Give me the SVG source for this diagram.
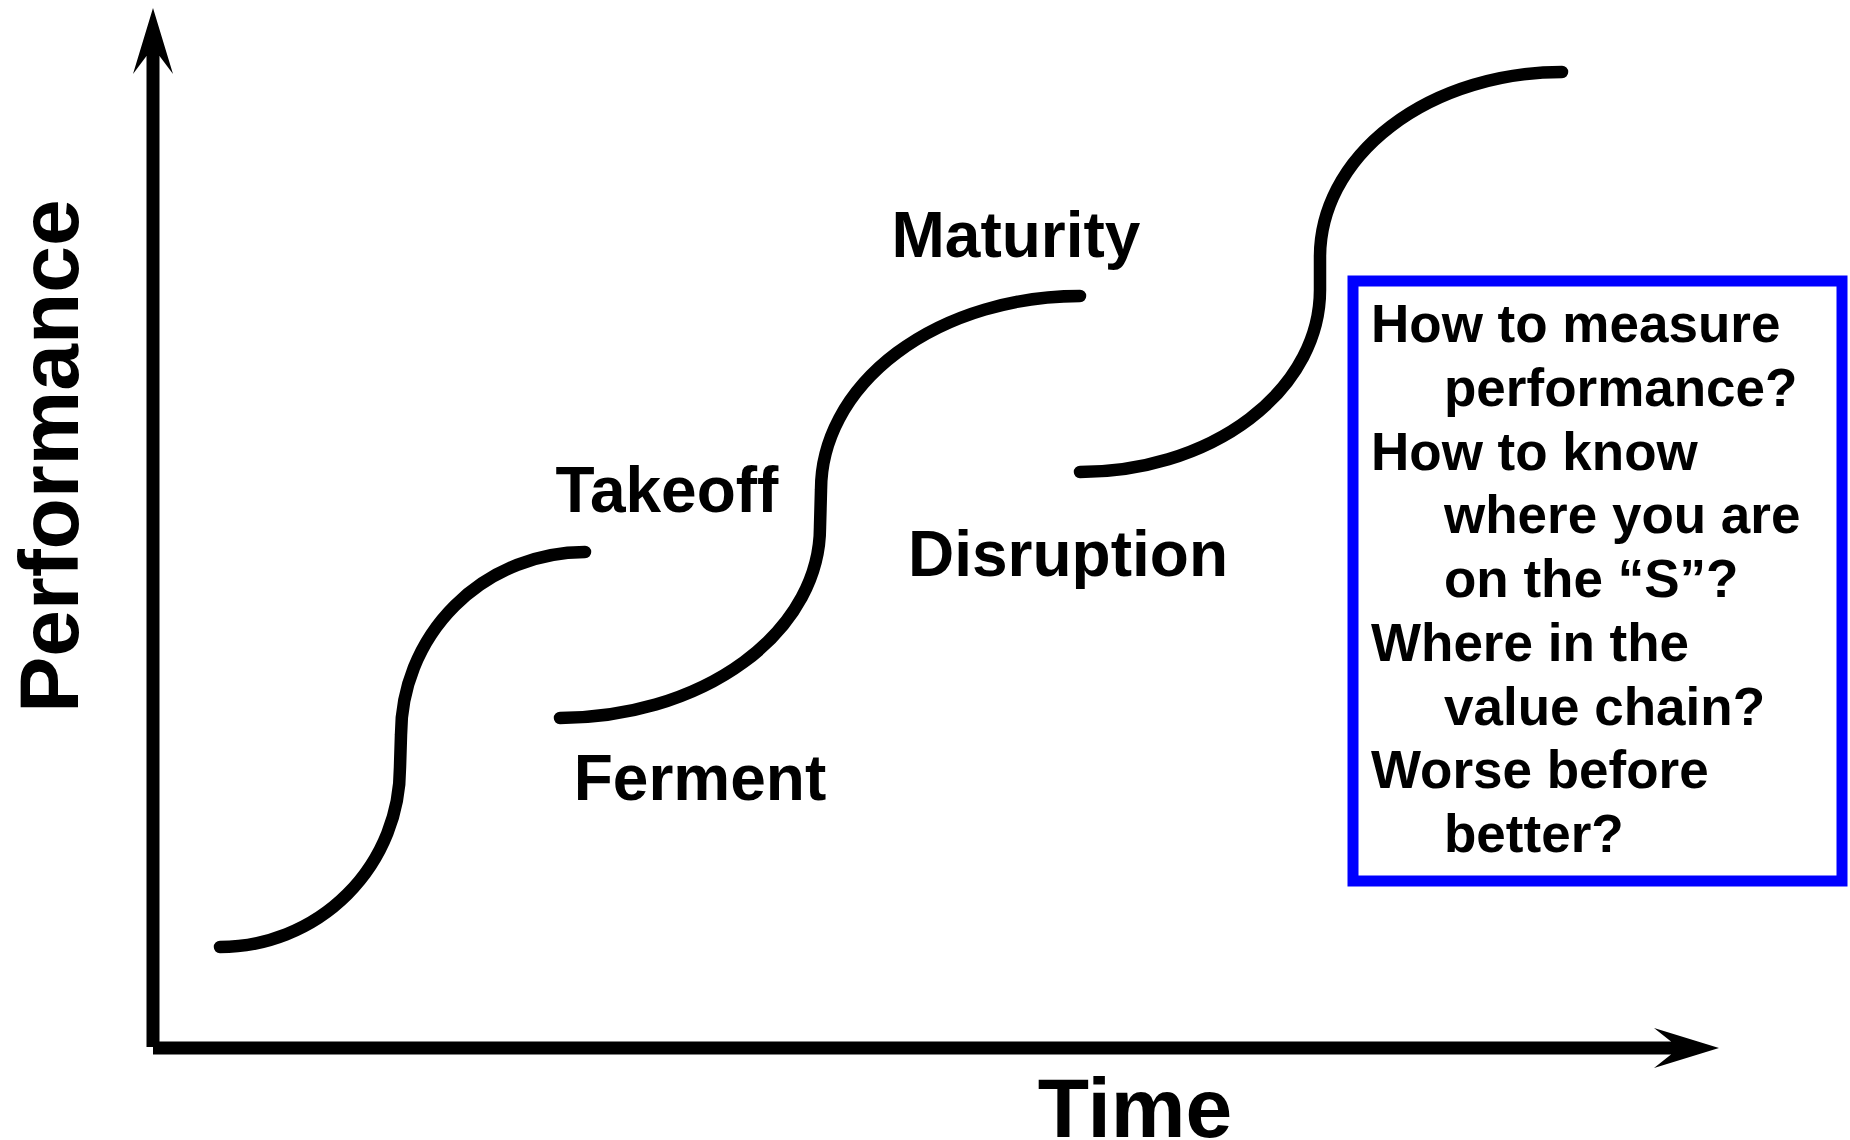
<svg xmlns="http://www.w3.org/2000/svg" width="1850" height="1140" viewBox="0 0 1850 1140">
<style>
text{font-family:"Liberation Sans",Arial,sans-serif;font-weight:bold;fill:#000}
.lbl{font-size:64px;text-anchor:middle}
.axl{font-size:84px;text-anchor:middle}
.q{font-size:53px}
.curve{fill:none;stroke:#000;stroke-width:12.5;stroke-linecap:round;stroke-linejoin:round}
.axis{stroke:#000;stroke-width:13;fill:none}
</style>
<rect width="1850" height="1140" fill="#fff"/>
<g id="axes">
<line class="axis" x1="153" y1="56" x2="153" y2="1047"/>
<polygon points="153,8 173,74 159.5,56 146.5,56 133,74" fill="#000"/>
<line class="axis" x1="153" y1="1048" x2="1672" y2="1048"/>
<polygon points="1719,1048 1654,1028 1671,1041.5 1671,1054.5 1654,1068" fill="#000"/>
</g>
<g id="connectors">
<path id="s1" class="curve" d="M220,947 A180,180 0 0 0 400,767 L401,735 A184,183 0 0 1 585,552"/>
<path id="s2" class="curve" d="M560,718 A260,191 0 0 0 820,527 L821,490 A259,194 0 0 1 1080,296"/>
<path id="s3" class="curve" d="M1080,472 A240,182 0 0 0 1320,290 L1320,257 A242,185 0 0 1 1562,72"/>
</g>
<g id="axis-labels">
<text class="axl" transform="translate(78,456) rotate(-90)">Performance</text>
<text class="axl" x="1135" y="1137">Time</text>
</g>
<g id="stage-labels">
<text id="maturity" class="lbl" x="1016" y="257">Maturity</text>
<text id="takeoff" class="lbl" x="667" y="512">Takeoff</text>
<text id="disruption" class="lbl" x="1068" y="576">Disruption</text>
<text id="ferment" class="lbl" x="700" y="800">Ferment</text>
</g>
<g id="questions">
<rect x="1353" y="281" width="489" height="600" fill="none" stroke="#0000ff" stroke-width="11"/>
<text class="q" x="1371" y="342">How to measure</text>
<text class="q" x="1444" y="406">performance?</text>
<text class="q" x="1371" y="470">How to know</text>
<text class="q" x="1444" y="533">where you are</text>
<text class="q" x="1444" y="597">on the “S”?</text>
<text class="q" x="1371" y="661">Where in the</text>
<text class="q" x="1444" y="725">value chain?</text>
<text class="q" x="1371" y="788">Worse before</text>
<text class="q" x="1444" y="852">better?</text>
</g>
</svg>
